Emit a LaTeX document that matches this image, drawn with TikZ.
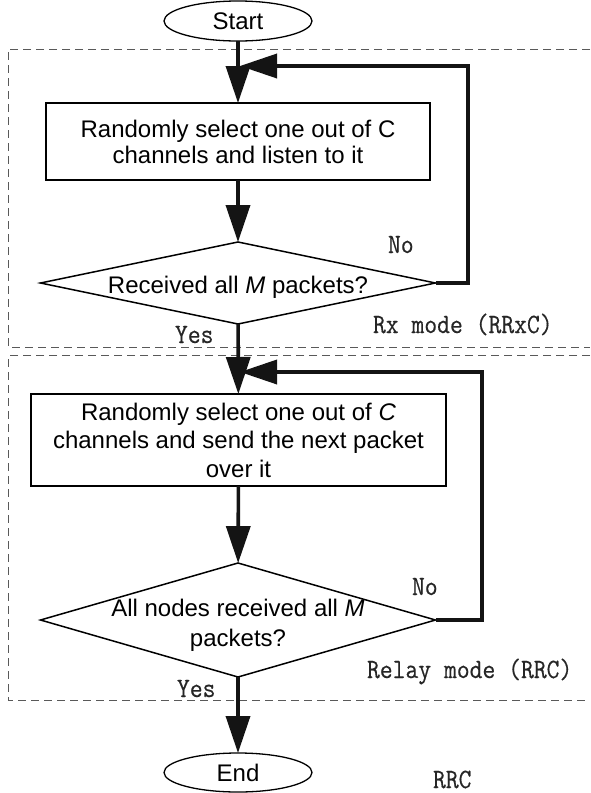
\documentclass[tikz,border=0pt]{standalone}
\usepackage{fontspec}
\setmainfont{Liberation Sans}
\newfontfamily\tagfont[FakeStretch=0.89,FakeBold=0.4]{Latin Modern Mono}
\usetikzlibrary{arrows.meta,shapes.geometric}

\begin{document}
\begin{tikzpicture}[x=1pt,y=-1pt,
  every node/.style={inner sep=0pt,outer sep=0pt},
  term/.style={draw,ellipse,line width=1.3pt,minimum width=148pt,
    font=\fontsize{24}{28}\selectfont},
  procbox/.style={draw,rectangle,line width=1.6pt,align=center},
  decide/.style={draw,diamond,line width=1.5pt,shape aspect=4,minimum width=395pt},
  flowtext/.style={align=center},
  flow/.style={line width=3.6pt,draw=black!92,-{Triangle[length=37pt,width=24pt]}},
  loopback/.style={flow,line join=miter},
  modebox/.style={draw=black!65,line width=1pt,dash pattern=on 8pt off 5pt},
  tag/.style={font=\fontsize{28}{32}\tagfont,text=black!85,anchor=base west}
]
\useasboundingbox (0,0) rectangle (590,793);

% operating-mode frames (open to the right)
\draw[modebox] (590,49) -- (8.3,49) -- (8.3,347.5) -- (590,347.5);
\draw[modebox] (590,355.7) -- (8.3,355.7) -- (8.3,700) -- (590,700);

% flow chart nodes
\node[term,minimum height=40pt] (start) at (238,21) {Start};
\node[procbox,minimum width=384pt,minimum height=77pt,
      font=\fontsize{24}{26}\selectfont] (listen) at (238,141.5)
      {Randomly select one out of C\\channels and listen to it};
\node[decide,minimum height=82pt] (rcv) at (238,283) {};
\node[flowtext,font=\fontsize{24}{28}\selectfont] (rcvq) at (238,287)
      {Received all \textit{M} packets?};
\node[procbox,minimum width=415pt,minimum height=92pt,
      font=\fontsize{24}{28.5}\selectfont] (send) at (238.5,440)
      {Randomly select one out of \textit{C}\\channels and send the next packet\\over it};
\node[decide,minimum height=114pt] (all) at (238,620) {};
\node[flowtext,font=\fontsize{24}{30}\selectfont] (allq) at (238,625)
      {All nodes received all \textit{M}\\packets?};
\node[term,minimum height=39pt] (end) at (238,772.5) {End};

% main flow
\draw[flow] (start) -- (listen);
\draw[flow] (listen) -- (rcv);
\draw[flow] (rcv) -- (send);
\draw[flow] (send) -- (all);
\draw[flow] (all) -- (end);

% loops back on "No"
\coordinate (rxa) at (468,283);
\coordinate (rxb) at (468,66);
\coordinate (rxtip) at (240,66);
\draw[loopback] (rcv.east) -- (rxa) -- (rxb) -- (rxtip);
\coordinate (rla) at (482,620);
\coordinate (rlb) at (482,372);
\coordinate (rltip) at (240,372);
\draw[loopback] (all.east) -- (rla) -- (rlb) -- (rltip);

% branch and mode labels
\node[tag] (no1) at (388,253) {No};
\node[tag] (yes1) at (175,343) {Yes};
\node[tag] (rxmode) at (373,333) {Rx mode (RRxC)};
\node[tag] (no2) at (412,595) {No};
\node[tag] (yes2) at (177,697) {Yes};
\node[tag] (relaymode) at (367,678) {Relay mode (RRC)};
\node[tag] (rrc) at (433,788) {RRC};
\end{tikzpicture}
\end{document}
